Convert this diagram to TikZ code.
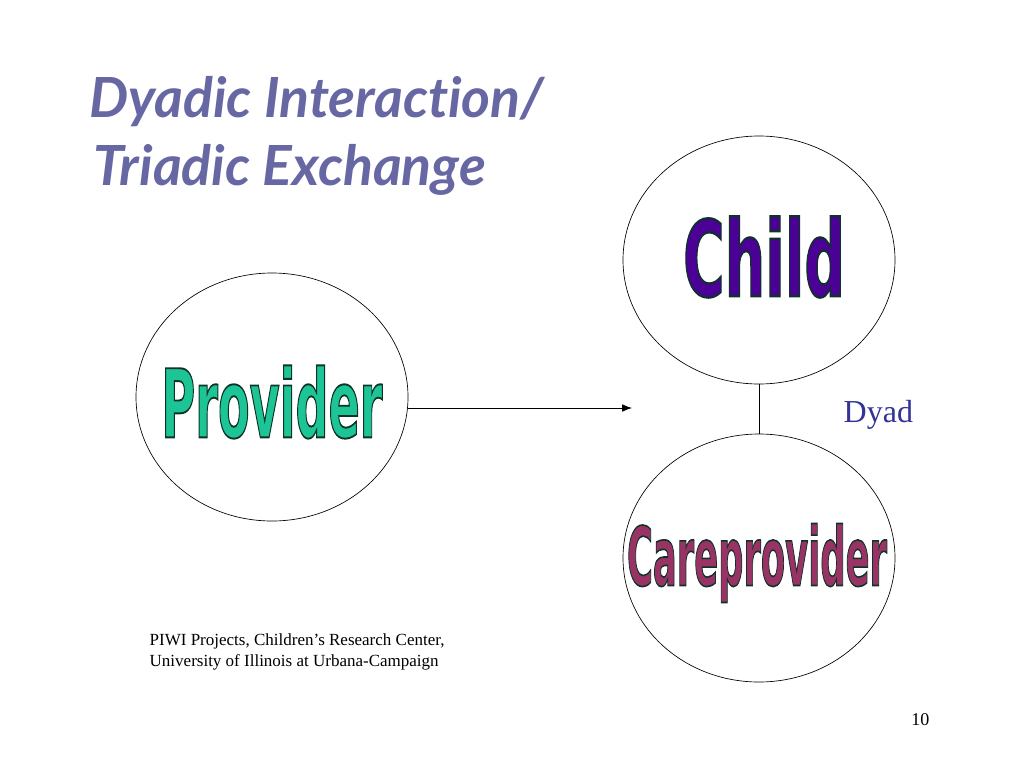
\documentclass[tikz,border=0pt]{standalone}
\usepackage{fontspec}
\usepackage{graphicx}
\setmainfont{Liberation Serif}
\newfontfamily\titlefont{Lato}[Ligatures={NoCommon}]
\newfontfamily\wordfont{DejaVu Sans}
\usetikzlibrary{arrows.meta,shapes.geometric}

\definecolor{titleblue}{HTML}{6767A3}
\definecolor{dyadblue}{HTML}{333399}
\definecolor{providergreen}{HTML}{1CC496}
\definecolor{childpurple}{HTML}{4B0096}
\definecolor{careplum}{HTML}{993366}

\newcommand{\wordart}[3]{\resizebox{#1}{#2}{\special{pdf:literal direct 2 Tr 0.2 w 0.05 0.2 0.15 RG}\wordfont\bfseries #3\special{pdf:literal direct 0 Tr}}}

\begin{document}
\begin{tikzpicture}[
  x=0.75pt,
  y=-0.75pt,
  bubble/.style={
    draw,
    ellipse,
    line width=0.5pt,
    inner sep=0pt,
    minimum width=204pt,
    minimum height=186pt
  },
  wordart/.style={inner sep=0pt},
  heading/.style={anchor=base west, text=titleblue, font=\titlefont\bfseries\itshape\fontsize{41.5}{44}\selectfont},
  note/.style={anchor=base west, font=\fontsize{12.75}{15}\selectfont},
  arrow/.style={-{Latex[length=2.6mm, width=2mm]}, line width=0.6pt},
  link/.style={line width=0.6pt}
]
\useasboundingbox (0,0) rectangle (1024,768);

\node[heading] (title1) at (85,117) {Dyadic Interaction/};
\node[heading] (title2) at (89,185) {Triadic Exchange};

\node[bubble] (provider) at (272,397) {};
\node[bubble] (child) at (759,260) {};
\node[bubble] (care) at (759,558) {};

\node[wordart, text=providergreen] (providertxt) at (272,402) {\wordart{165.75pt}{54pt}{Provider}};
\node[wordart, text=childpurple] (childtxt) at (764,257) {\wordart{121.5pt}{60pt}{Child}};
\node[wordart, text=careplum] (caretxt) at (757,563) {\wordart{195pt}{46.5pt}{Careprovider}};

\node[anchor=base west, text=dyadblue, font=\fontsize{24}{27}\selectfont] (dyad) at (839,422) {Dyad};

\coordinate (arrowend) at (632,408);
\draw[arrow] (provider.east |- arrowend) -- (arrowend);
\draw[link] (child) -- (care);

\node[note] (credit1) at (145,645) {PIWI Projects, Children’s Research Center,};
\node[note] (credit2) at (145,666) {University of Illinois at Urbana-Campaign};
\node[anchor=base east, font=\fontsize{13.5}{16}\selectfont] (pagenum) at (934,725) {10};
\end{tikzpicture}
\end{document}
